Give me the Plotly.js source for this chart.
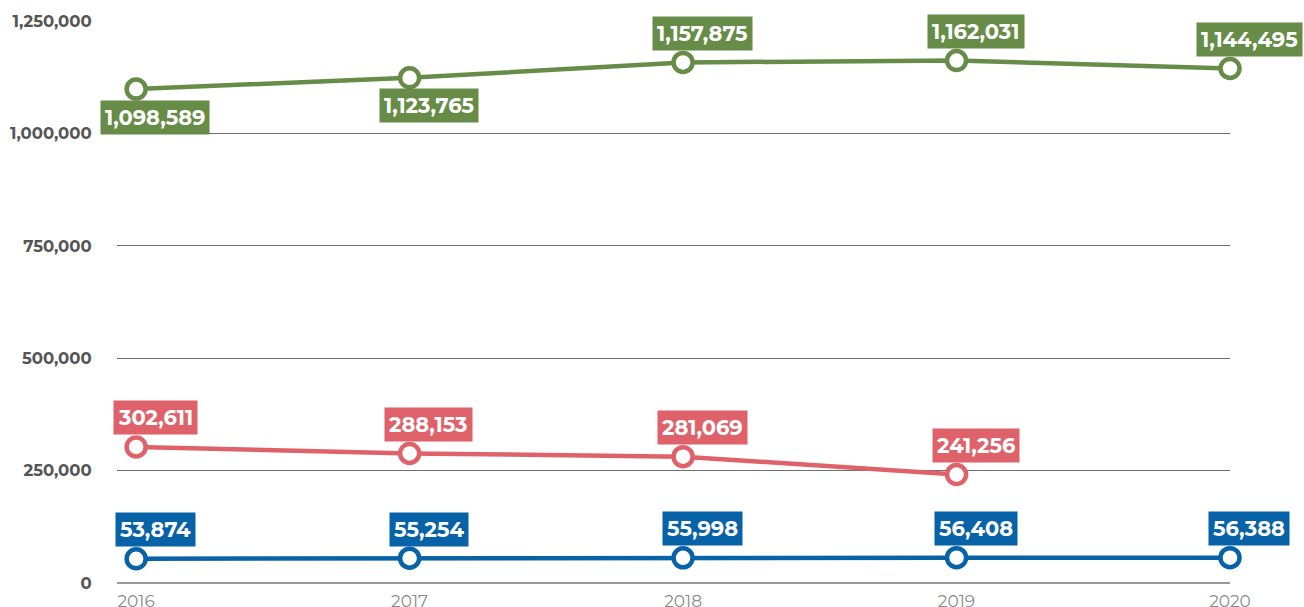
<!DOCTYPE html>
<html>
<head>
<meta charset="utf-8">
<script src="https://cdn.plot.ly/plotly-3.0.1.min.js"></script>
<style>html,body{margin:0;padding:0;background:#fff;}#chart{width:1304px;height:607px;}</style>
</head>
<body>
<div id="chart"></div>
<script>
const years = [2016, 2017, 2018, 2019, 2020];
const greenValues = [1098589, 1123765, 1157875, 1162031, 1144495];
const redValues = [302611, 288153, 281069, 241256, null];
const blueValues = [53874, 55254, 55998, 56408, 56388];
const yTickVals = [0, 250000, 500000, 750000, 1000000, 1250000];
const yTickText = ['0', '250,000', '500,000', '750,000', '1,000,000', '1,250,000'];
const xTickText = ['2016', '2017', '2018', '2019', '2020'];
const greenLabelSide = ['below', 'below', 'above', 'above', 'above'];

const GREEN = '#678c47', RED = '#df626b', BLUE = '#0762a8';
const FONT = 'Montserrat, "Open Sans", Lato, sans-serif';

function lineTrace(y, color) {
  return {
    x: years, y: y, type: 'scatter', mode: 'lines+markers',
    line: {color: color, width: 4.5},
    marker: {size: 19, color: '#ffffff', line: {color: color, width: 4.5}},
    cliponaxis: false, hoverinfo: 'skip', connectgaps: false
  };
}

const fmt = v => v.toLocaleString('en-US');
const annotations = [];
function addLabels(vals, color, sides) {
  vals.forEach((v, i) => {
    if (v === null) return;
    const side = sides ? sides[i] : 'above';
    annotations.push({
      x: years[i], y: v, xref: 'x', yref: 'y',
      text: '<b>' + fmt(v) + '</b>', showarrow: false,
      xshift: 19, yshift: side === 'above' ? 29 : -28,
      bgcolor: color, borderpad: 4,
      font: {family: FONT, size: 21, color: '#ffffff'}
    });
  });
}
addLabels(greenValues, GREEN, greenLabelSide);
addLabels(redValues, RED, null);
addLabels(blueValues, BLUE, null);

const layout = {
  width: 1304, height: 607,
  margin: {l: 117, r: 74, t: 21, b: 24},
  paper_bgcolor: '#ffffff', plot_bgcolor: '#ffffff',
  showlegend: false,
  xaxis: {
    range: [2015.93, 2020], tickvals: years, ticktext: xTickText,
    showgrid: false, zeroline: false, showline: false,
    ticks: 'outside', ticklen: 3, tickcolor: 'rgba(0,0,0,0)',
    tickfont: {family: FONT, size: 17, color: '#8a8a8a'}
  },
  yaxis: {
    range: [0, 1250000], tickvals: yTickVals, ticktext: yTickText,
    showgrid: true, gridcolor: '#6e6e6e', gridwidth: 1,
    zeroline: true, zerolinecolor: '#999999', zerolinewidth: 1.5,
    showline: false, ticks: 'outside', ticklen: 21, tickcolor: 'rgba(0,0,0,0)',
    tickfont: {family: FONT, size: 16.5, color: '#555555', weight: 'bold'}
  },
  annotations: annotations
};

Plotly.newPlot('chart', [lineTrace(blueValues, BLUE), lineTrace(redValues, RED), lineTrace(greenValues, GREEN)], layout, {staticPlot: true, displayModeBar: false});
</script>
</body>
</html>
